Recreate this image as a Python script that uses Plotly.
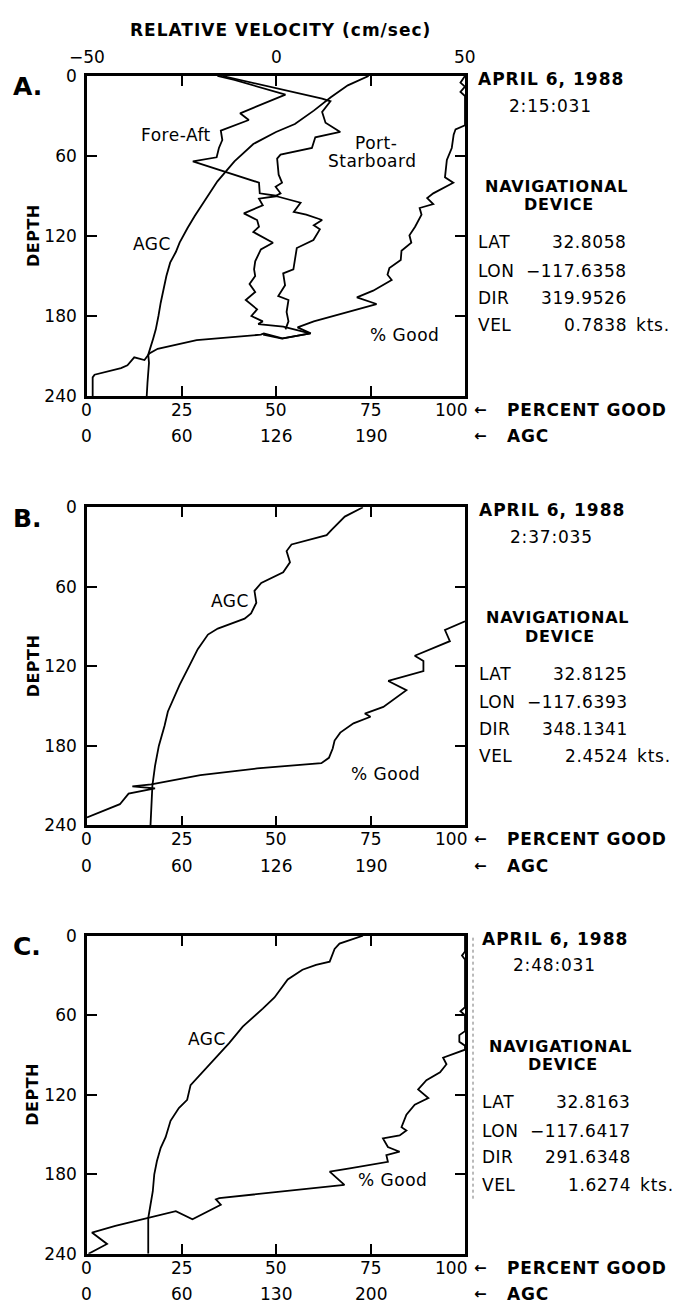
import plotly.graph_objects as go

W, H = 685, 1315
FONT = "DejaVu Sans"

# ---------------- data ----------------
depth_ticks = [0, 60, 120, 180, 240]
pct_ticks = [0, 25, 50, 75, 100]
vel_ticks = [-50, 0, 50]
vel_ticktext = ["−50", "0", "50"]
agc_tick_pos = [0, 25, 50, 75]
agc_ticktext_a = ["0", "60", "126", "190"]
agc_ticktext_b = ["0", "60", "126", "190"]
agc_ticktext_c = ["0", "60", "130", "200"]

# Panel A
a_agc_pct = [74.5, 69, 64.5, 60, 55, 50, 44, 39, 34.5, 31, 28.5, 26.6, 24.5, 23.5, 22, 21, 20.2, 19.5,
             18.9, 18.2, 17.5, 16.5, 16.2, 16.4, 16.2, 16, 15.8]
a_agc_depth = [0, 7, 16, 26, 36, 42, 51, 64, 79, 94, 105, 114, 125, 132, 140, 150, 160, 170,
               180, 190, 197, 205, 209, 215, 221, 230, 240]

a_fa_vel = [-15.5, -11, 2.5, -9.5, -7.2, -14.6, -14.2, -15.1, -15.7, -22, -4.5, -4.3, 0.5, -4.5, -3.5,
            -8.5, -5, -4.5, -6, -4, -0.8, -4, -5.5, -5.8, -5.5, -7, -5.5, -8, -5, -6.5, -3.5, -4.7,
            1.9, 9, 1.6, -3.4]
a_fa_depth = [0, 3, 14, 28, 33, 41, 48, 54, 61, 64, 80, 88, 90, 92, 97,
              103, 108, 113, 117, 120, 125, 130, 139, 145, 150, 156, 162, 168, 175, 180, 184, 186,
              188, 193, 197, 194]

a_ps_vel = [-14.2, 12.2, 14.4, 12.2, 13.1, 17, 10.4, 9.5, 1.2, 0.3, 0.7, 1.6, -0.1, 1.2, -0.1, 6.5,
            4.7, 8, 12.2, 10, 11.6, 9.9, 5.5, 5, 4.6, 1.9, 2.4, 0.6, 3.3, 2.8, 3.3, 2.5]
a_ps_depth = [0, 17, 19, 27, 35, 42, 46, 54, 59, 62, 74, 80, 83, 88, 90, 95,
              102, 104, 108, 112, 115, 123, 129, 137, 145, 148, 157, 165, 168, 177, 184, 190]

a_pg_pct = [100, 98.8, 100, 98.8, 100, 100, 97.5, 97, 96.5, 95.2, 94.7, 96.9, 91.6, 90, 91.6, 88,
            88.5, 86.8, 85.3, 85.8, 83.2, 83, 80, 79.5, 80.6, 75.7, 71.4, 76.6, 60, 55.7, 59.2,
            51.7, 46.8, 46, 29, 18.7, 16.5, 15.2, 12.5, 10.7, 9, 2, 1.5, 1.5]
a_pg_depth = [0, 5, 8, 12, 15, 37, 40, 44, 54, 63, 76, 80, 88, 91.6, 96, 99,
              104, 113, 119.5, 125, 131, 138, 144, 149, 153, 161, 166, 171, 184, 188.5, 193,
              196.7, 193, 194, 198, 204.6, 208, 213, 211, 217, 219, 224, 226, 240]

# Panel B
b_agc_pct = [73, 68.2, 64.7, 63.4, 54.1, 52.8, 53.7, 51.9, 46.1, 44.3, 44.8, 43.4, 41.7, 34.6, 32,
             29.3, 27.1, 24.5, 21.4, 20.5, 19, 18, 17.3, 17, 16.8]
b_agc_depth = [0, 7, 17, 21, 28, 33, 41.5, 49, 57, 63, 72, 80, 84, 91.5, 96,
               107, 119.5, 134, 154, 165, 180, 195, 210, 225, 240]

b_pg_pct = [100, 94.7, 96, 86.7, 89, 89, 79.7, 84.5, 78.4, 73.5, 75, 70.5, 67, 65.5, 65, 64, 62,
            45, 30, 20, 17, 12, 18, 11, 8.7, 0]
b_pg_depth = [86, 92.6, 101, 112, 116, 123.5, 131, 138, 150.6, 155.6, 158, 163, 170, 176, 182, 189, 193,
              197, 202, 207, 209, 210.5, 212, 216, 224, 234]

# Panel C
c_agc_pct = [73, 66.8, 65.5, 64.2, 60.6, 57, 53.1, 51.8, 49.6, 46.5, 41.2, 37.6, 34.5, 30.5, 27.4,
             26.5, 24.3, 22.1, 20.8, 19.5, 18.5, 17.8, 17.4, 16.8, 16.2, 16.2]
c_agc_depth = [0, 6, 10, 19.6, 22, 25.7, 33, 38, 46.6, 55, 68.6, 81, 90.7, 103, 112.7,
               123.8, 130, 139.7, 152, 160, 170, 180, 193, 203, 213, 240]

c_pg_pct = [100, 100, 99.2, 100, 100, 98.8, 100, 100, 98.5, 98.5, 100, 100, 94.2, 95.1, 93.4, 89.8,
            87.6, 90.3, 86.7, 84.5, 83.2, 84.5, 82.7, 78.3, 79.6, 82.7, 79.2, 79.6, 69.5, 64.2,
            68.1, 35, 34.1, 35.4, 27.9, 23.5, 7.5, 1.3, 5.3, 0.4]
c_pg_depth = [0, 12, 15, 18, 54, 57, 60, 72, 75, 80, 83, 86, 92, 97, 103, 109,
              116, 122.5, 127.5, 135, 144.5, 147, 150.7, 153, 159.4, 163, 165.6, 170.6, 175.5, 178,
              188, 198, 199, 203, 214, 207.8, 219, 224, 232.6, 240]

dates = ["APRIL 6, 1988", "APRIL 6, 1988", "APRIL 6, 1988"]
times = ["2:15:031", "2:37:035", "2:48:031"]
lats = ["32.8058", "32.8125", "32.8163"]
lons = ["−117.6358", "−117.6393", "−117.6417"]
dirs = ["319.9526", "348.1341", "291.6348"]
vels = ["0.7838", "2.4524", "1.6274"]
panel_letters = ["A.", "B.", "C."]

# ---------------- layout geometry (pixels) ----------------
BOX_L, BOX_R = 87, 465
TOPS = [67, 505, 940]
BOTS = [392, 828, 1263]


def px(x):
    return x / W


def py(y):
    return 1 - y / H


fig = go.Figure()
LINE = dict(color="black", width=1.8)

# panel A traces
fig.add_trace(go.Scatter(x=a_agc_pct, y=a_agc_depth, xaxis="x", yaxis="y", mode="lines", line=LINE))
fig.add_trace(go.Scatter(x=a_pg_pct, y=a_pg_depth, xaxis="x", yaxis="y", mode="lines", line=LINE))
fig.add_trace(go.Scatter(x=a_fa_vel, y=a_fa_depth, xaxis="x4", yaxis="y", mode="lines", line=LINE))
fig.add_trace(go.Scatter(x=a_ps_vel, y=a_ps_depth, xaxis="x4", yaxis="y", mode="lines", line=LINE))
# panel B
fig.add_trace(go.Scatter(x=b_agc_pct, y=b_agc_depth, xaxis="x2", yaxis="y2", mode="lines", line=LINE))
fig.add_trace(go.Scatter(x=b_pg_pct, y=b_pg_depth, xaxis="x2", yaxis="y2", mode="lines", line=LINE))
# panel C
fig.add_trace(go.Scatter(x=c_agc_pct, y=c_agc_depth, xaxis="x3", yaxis="y3", mode="lines", line=LINE))
fig.add_trace(go.Scatter(x=c_pg_pct, y=c_pg_depth, xaxis="x3", yaxis="y3", mode="lines", line=LINE))

tickfont = dict(family=FONT, size=17, color="black")


def xax(anchor):
    return dict(domain=[px(BOX_L), px(BOX_R)], range=[0, 100], anchor=anchor,
                tickvals=[25, 50, 75], ticks="inside", ticklen=10, tickwidth=1.5, tickcolor="black",
                showticklabels=False, showline=True, linewidth=2.6, linecolor="black",
                mirror="ticks", showgrid=False, zeroline=False)


def yax(i, anchor):
    return dict(domain=[py(BOTS[i]), py(TOPS[i])], range=[240, 0], anchor=anchor,
                tickvals=depth_ticks, ticks="inside", ticklen=10, tickwidth=1.5, tickcolor="black",
                tickfont=tickfont, ticklabelstandoff=4, showline=True, linewidth=2.6,
                linecolor="black", mirror="ticks", showgrid=False, zeroline=False)


fig.update_layout(
    width=W, height=H, margin=dict(l=0, r=0, t=0, b=0),
    paper_bgcolor="white", plot_bgcolor="white", showlegend=False,
    xaxis=xax("y"), yaxis=yax(0, "x"),
    xaxis2=xax("y2"), yaxis2=yax(1, "x2"),
    xaxis3=xax("y3"), yaxis3=yax(2, "x3"),
    xaxis4=dict(overlaying="x", anchor="y", side="top", range=[-50, 50],
                showticklabels=False, ticks="", showline=False, showgrid=False, zeroline=False),
)

anns = []


def ann(text, x, y, xanchor="center", size=17, bold=False, xref="paper", yref="paper",
        spacing=0.0, angle=0):
    t = text
    if spacing:
        t = '<span style="letter-spacing:%gpx">%s</span>' % (spacing, t)
    if bold:
        t = "<b>" + t + "</b>"
    anns.append(dict(text=t, x=x, y=y, xref=xref, yref=yref, xanchor=xanchor, yanchor="middle",
                     showarrow=False, textangle=angle,
                     font=dict(family=FONT, size=size, color="black")))


# title and velocity tick labels (top axis of panel A)
ann("RELATIVE VELOCITY (cm/sec)", px(280), py(20), bold=True, spacing=1)
for v, t in zip(vel_ticks, vel_ticktext):
    ann(t, v, py(48), xref="x4")

xnames = ["x", "x2", "x3"]
agc_texts = [agc_ticktext_a, agc_ticktext_b, agc_ticktext_c]
info_dx = [0, 1, 4]

for i in range(3):
    top, bot = TOPS[i], BOTS[i]
    # panel letter
    ann(panel_letters[i], px(11), py(top + 11), xanchor="left", size=25, bold=True)
    # DEPTH
    ann("DEPTH", px(33), py((top + bot) / 2), bold=True, size=16, angle=-90, spacing=0.5)
    # bottom percent labels
    for v in pct_ticks:
        if v == 100:
            ann(str(v), v, py(bot + 14), xanchor="right", xref=xnames[i])
            anns[-1]["xshift"] = 4
        else:
            ann(str(v), v, py(bot + 14), xref=xnames[i])
    for v, t in zip(agc_tick_pos, agc_texts[i]):
        ann(t, v, py(bot + 41), xref=xnames[i])
    # arrows + axis names
    ann("←", px(480), py(bot + 14), bold=True, size=15)
    ann("PERCENT GOOD", px(505), py(bot + 14), xanchor="left", bold=True, spacing=0.8)
    ann("←", px(480), py(bot + 41), bold=True, size=15)
    ann("AGC", px(505), py(bot + 41), xanchor="left", bold=True, spacing=0.8)
    # info block
    dx = info_dx[i]
    ann(dates[i], px(476 + dx), py(top + 3), xanchor="left", bold=True, spacing=1)
    ann(times[i], px(507 + dx), py(top + 30), xanchor="left", spacing=0.8)
    ann("NAVIGATIONAL", px(556 + dx), py(top + 112), bold=True, size=16, spacing=0.8)
    ann("DEVICE", px(559 + dx), py(top + 131), bold=True, size=16, spacing=0.8)
    rows = [("LAT", lats[i]), ("LON", lons[i]), ("DIR", dirs[i]), ("VEL", vels[i])]
    for k, (lab, val) in enumerate(rows):
        yy = top + [169, 198, 225, 253][k]
        ann(lab, px(476 + dx), py(yy), xanchor="left", spacing=0.5)
        ann(val, px(629 + dx), py(yy), xanchor="right", spacing=0.6)
    ann("kts.", px(634 + dx), py(top + 253), xanchor="left", spacing=0.8)

# curve labels (data coordinates)
ann("Fore-Aft", -26.5, 44, xref="x4", yref="y", spacing=0.5)
ann("Port-", 26.5, 50, xref="x4", yref="y", spacing=0.5)
ann("Starboard", 25.5, 63.5, xref="x4", yref="y", spacing=0.5)
ann("AGC", 17.2, 126, xref="x", yref="y", spacing=0.5)
ann("% Good", 84, 194, xref="x", yref="y", spacing=0.5)
ann("AGC", 37.8, 70.5, xref="x2", yref="y2", spacing=0.5)
ann("% Good", 79, 201, xref="x2", yref="y2", spacing=0.5)
ann("AGC", 31.7, 78, xref="x3", yref="y3", spacing=0.5)
ann("% Good", 80.7, 184, xref="x3", yref="y3", spacing=0.5)

fig.update_layout(annotations=anns)

# faint scanned rule to the right of panel C
fig.add_shape(type="line", xref="paper", yref="paper", x0=px(473), x1=px(473),
              y0=py(942), y1=py(1210), line=dict(color="#777777", width=1, dash="dot"))

fig.write_html("out.html")
